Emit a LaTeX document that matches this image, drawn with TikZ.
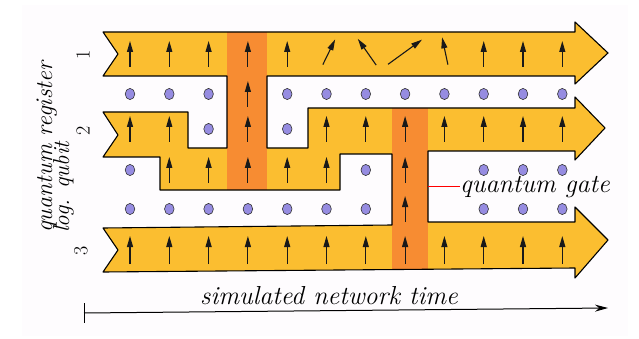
\documentclass[tikz,border=0pt]{standalone}
\usetikzlibrary{arrows.meta}

\definecolor{bandyellow}{RGB}{251,190,48}
\definecolor{gateorange}{RGB}{247,140,50}
\definecolor{qdot}{RGB}{150,140,225}
\definecolor{paper}{RGB}{254,252,254}

\tikzset{
  spin/.style={line width=1.1pt, draw=black!90, -{Triangle[length=11pt,width=6pt]}},
  qubit/.style={draw=black!80, line width=0.6pt, fill=qdot},
  outline/.style={line width=1.1pt, line join=round},
  hand/.style={font=\itshape, inner sep=0pt},
}

% one spin: x, y, tilt, half length
\newcommand{\qspin}[4]{\draw[spin] ({#1-#4*sin(#3)},{#2+#4*cos(#3)}) -- ({#1+#4*sin(#3)},{#2-#4*cos(#3)});}
\newcommand{\qcol}[1]{130+39.3*#1}
% outline of the three registers and the two gates
\newcommand{\registerpath}{(103,32) -- (575,32) -- (575,22) -- (608,53) -- (575,84) -- (575,76)
  -- (267,76) -- (267,148) -- (308,148) -- (308,108) -- (575,108) -- (575,97) -- (605,128)
  -- (575,160) -- (575,151) -- (428,151) -- (428,222) -- (575,222) -- (575,207) -- (608,240)
  -- (575,278) -- (575,268) -- (103,272) -- (118,250) -- (103,228) -- (392,225) -- (392,154)
  -- (340,154) -- (340,190) -- (160,190) -- (160,157) -- (103,157) -- (118,135) -- (103,112)
  -- (188,112) -- (188,148) -- (227,148) -- (227,76) -- (103,76) -- (118,54) -- cycle}

\begin{document}
\begin{tikzpicture}[x=1pt, y=-1pt]
  \useasboundingbox (0,0) rectangle (639,339);
  \fill[paper] (22,5) rectangle (628,336);

  % registers and gates
  \fill[bandyellow] \registerpath;
  \fill[gateorange] (227,32) rectangle (267,190);
  \fill[gateorange] (392,108) rectangle (428,269);
  \draw[outline] \registerpath;

  % spins of register 1
  \foreach \c in {0,1,2,3,4,9,10,11} \qspin{\qcol{\c}}{54}{0}{13};
  \qspin{329}{52}{26}{14}
  \qspin{367}{52}{-35}{16}
  \qspin{405}{52}{54}{21}
  \qspin{445}{51}{-12}{14}
  % spins of register 2 and 3
  \foreach \c in {3} \qspin{\qcol{\c}}{94}{0}{13};
  \foreach \c in {0,1,3,5,6,7,8,9,10,11} \qspin{\qcol{\c}}{129}{0}{13};
  \foreach \c in {1,2,3,4,5,7} \qspin{\qcol{\c}}{170}{0}{13};
  \foreach \c in {7} \qspin{\qcol{\c}}{209}{0}{13};
  \foreach \c in {0,...,11} \qspin{\qcol{\c}}{250}{0}{14};

  % free qubits
  \foreach \c in {0,1,2,4,5,6,7,8,9,10,11}
    \draw[qubit] ({\qcol{\c}},94) ellipse [x radius=4.8, y radius=5.6];
  \foreach \c in {2,4}
    \draw[qubit] ({\qcol{\c}},129) ellipse [x radius=4.8, y radius=5.6];
  \foreach \c in {0,6,9,10,11}
    \draw[qubit] ({\qcol{\c}},170) ellipse [x radius=4.8, y radius=5.6];
  \foreach \c in {0,1,2,3,4,5,6,9,10,11}
    \draw[qubit] ({\qcol{\c}},209) ellipse [x radius=4.8, y radius=5.6];

  % register numbers
  \node[hand, rotate=90, font=\fontsize{20}{22}\selectfont] (n1) at (83,55) {1};
  \node[hand, rotate=90, font=\fontsize{20}{22}\selectfont] (n2) at (83,131) {2};
  \node[hand, rotate=90, font=\fontsize{20}{22}\selectfont] (n3) at (81,251) {3};

  % labels
  \node[hand, rotate=90, anchor=base west, font=\itshape\fontsize{24}{26}\selectfont] (reg) at (52,233) {quantum register};
  \node[hand, rotate=90, anchor=base west, font=\itshape\fontsize{23}{25}\selectfont] (lq) at (69,233) {log. qubit};
  \node[hand, anchor=base west, font=\itshape\fontsize{26}{28}\selectfont] (gate) at (460,192) {quantum gate};
  \coordinate (gateedge) at (428,186);
  \draw[red, line width=1pt] (gateedge) -- (gateedge -| gate.west);

  % time axis
  \coordinate (t0) at (84,313);
  \coordinate (t1) at (608,308);
  \draw[line width=1pt, -{Stealth[length=13pt,width=7pt]}] (t0) -- (t1);
  \draw[line width=1pt] (t0) ++(0,-10) -- ++(0,20);
  \node[hand, anchor=base west, font=\itshape\fontsize{26}{28}\selectfont] (time) at (200,304) {simulated network time};
\end{tikzpicture}
\end{document}
